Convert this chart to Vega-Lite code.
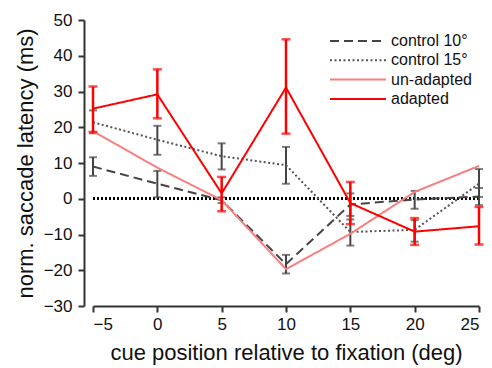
{
  "$schema": "https://vega.github.io/schema/vega-lite/v6.json",
  "width": 386,
  "height": 286,
  "autosize": {"type": "none"},
  "padding": {"left": 93, "top": 20, "right": 13, "bottom": 62},
  "background": "white",
  "config": {
    "view": {"stroke": null},
    "font": "Liberation Sans",
    "axis": {
      "grid": false,
      "domainColor": "#333333",
      "domainWidth": 2,
      "tickColor": "#333333",
      "tickWidth": 2,
      "tickSize": 6,
      "labelFontSize": 17,
      "labelColor": "#111111",
      "labelOverlap": false,
      "titleFontSize": 22,
      "titleFontWeight": "normal",
      "titleColor": "#111111"
    },
    "legend": {
      "orient": "none",
      "legendX": 257,
      "legendY": 13,
      "symbolType": "M-4,0H4",
      "symbolSize": 196,
      "symbolStrokeWidth": 2,
      "labelFontSize": 16,
      "labelColor": "#111111",
      "labelOffset": 25,
      "rowPadding": 3.3,
      "title": null
    }
  },
  "datasets": {
    "pts": [
      {"series": "control 10°", "x": -5, "y": 9.0, "lo": 6.4, "hi": 11.6},
      {"series": "control 10°", "x": 0, "y": 4.2, "lo": 0.4, "hi": 7.8},
      {"series": "control 10°", "x": 5, "y": -0.4, "lo": -1.2, "hi": 0.4},
      {"series": "control 10°", "x": 10, "y": -18.3, "lo": -20.9, "hi": -15.7},
      {"series": "control 10°", "x": 15, "y": -1.6, "lo": -4.8, "hi": 1.5},
      {"series": "control 10°", "x": 20, "y": -0.2, "lo": -2.8, "hi": 2.2},
      {"series": "control 10°", "x": 25, "y": 0.6, "lo": -1.8, "hi": 3.0},
      {"series": "control 15°", "x": -5, "y": 21.4, "lo": 18.3, "hi": 24.7},
      {"series": "control 15°", "x": 0, "y": 16.5, "lo": 12.3, "hi": 20.4},
      {"series": "control 15°", "x": 5, "y": 11.9, "lo": 8.2, "hi": 15.5},
      {"series": "control 15°", "x": 10, "y": 9.4, "lo": 4.2, "hi": 14.5},
      {"series": "control 15°", "x": 15, "y": -9.3, "lo": -13.1, "hi": -5.8},
      {"series": "control 15°", "x": 20, "y": -8.7, "lo": -12.0, "hi": -6.0},
      {"series": "control 15°", "x": 25, "y": 4.2, "lo": 0.5, "hi": 8.3},
      {"series": "un-adapted", "x": -5, "y": 18.9},
      {"series": "un-adapted", "x": 0, "y": 8.7},
      {"series": "un-adapted", "x": 5, "y": -0.4},
      {"series": "un-adapted", "x": 10, "y": -19.7},
      {"series": "un-adapted", "x": 15, "y": -9.8},
      {"series": "un-adapted", "x": 20, "y": 1.9},
      {"series": "un-adapted", "x": 25, "y": 9.2},
      {"series": "adapted", "x": -5, "y": 25.2, "lo": 18.7, "hi": 31.4},
      {"series": "adapted", "x": 0, "y": 29.2, "lo": 22.5, "hi": 36.2},
      {"series": "adapted", "x": 5, "y": 1.5, "lo": -3.5, "hi": 6.1},
      {"series": "adapted", "x": 10, "y": 31.1, "lo": 18.2, "hi": 44.6},
      {"series": "adapted", "x": 15, "y": -1.2, "lo": -7.1, "hi": 4.7},
      {"series": "adapted", "x": 20, "y": -9.2, "lo": -12.9, "hi": -5.4},
      {"series": "adapted", "x": 25, "y": -7.7, "lo": -12.8, "hi": -2.3}
    ]
  },
  "data": {"name": "pts"},
  "layer": [
    {
      "mark": {"type": "rule", "color": "#000000", "strokeDash": [2, 2], "strokeWidth": 2},
      "encoding": {"y": {"datum": 0, "type": "quantitative", "scale": {"domain": [-30, 50], "nice": false},
          "axis": {"values": [-30, -20, -10, 0, 10, 20, 30, 40, 50], "offset": 9, "labelPadding": 6, "titlePadding": 6},
          "title": "norm. saccade latency (ms)"}}
    },
    {
      "transform": [{"filter": "datum.series === 'control 10°' || datum.series === 'control 15°'"}],
      "mark": {"type": "errorbar", "ticks": {"size": 8}, "thickness": 2, "color": "#444444"},
      "encoding": {
        "x": {"field": "x", "type": "quantitative", "scale": {"domain": [-5, 25], "nice": false, "zero": false},
          "axis": {"values": [-5, 0, 5, 10, 15, 20, 25], "labelPadding": 4, "titlePadding": 10},
          "title": "cue position relative to fixation (deg)"},
        "y": {"field": "lo", "type": "quantitative", "scale": {"domain": [-30, 50], "nice": false},
          "axis": {"values": [-30, -20, -10, 0, 10, 20, 30, 40, 50], "offset": 9, "labelPadding": 6, "titlePadding": 6},
          "title": "norm. saccade latency (ms)"},
        "y2": {"field": "hi"},
        "detail": {"field": "series"}
      }
    },
    {
      "mark": {"type": "line", "strokeWidth": 2},
      "encoding": {
        "x": {"field": "x", "type": "quantitative", "scale": {"domain": [-5, 25], "nice": false, "zero": false},
          "axis": {"values": [-5, 0, 5, 10, 15, 20, 25], "labelPadding": 4, "titlePadding": 10},
          "title": "cue position relative to fixation (deg)"},
        "y": {"field": "y", "type": "quantitative", "scale": {"domain": [-30, 50], "nice": false},
          "axis": {"values": [-30, -20, -10, 0, 10, 20, 30, 40, 50], "offset": 9, "labelPadding": 6, "titlePadding": 6},
          "title": "norm. saccade latency (ms)"},
        "color": {
          "field": "series",
          "type": "nominal",
          "sort": ["control 10°", "control 15°", "un-adapted", "adapted"],
          "scale": {"domain": ["control 10°", "control 15°", "un-adapted", "adapted"], "range": ["#444444", "#555555", "#f77f7f", "#ff0000"]}
        },
        "strokeDash": {
          "field": "series",
          "type": "nominal",
          "sort": ["control 10°", "control 15°", "un-adapted", "adapted"],
          "scale": {"domain": ["control 10°", "control 15°", "un-adapted", "adapted"], "range": [[9, 5], [2, 2.5], [1, 0], [1, 0]]}
        },
        "order": {"field": "x", "type": "quantitative"}
      }
    },
    {
      "transform": [{"filter": "datum.series === 'adapted'"}],
      "mark": {"type": "errorbar", "ticks": {"size": 9}, "thickness": 2.5, "color": "#ff0000"},
      "encoding": {
        "x": {"field": "x", "type": "quantitative", "scale": {"domain": [-5, 25], "nice": false, "zero": false},
          "axis": {"values": [-5, 0, 5, 10, 15, 20, 25], "labelPadding": 4, "titlePadding": 10},
          "title": "cue position relative to fixation (deg)"},
        "y": {"field": "lo", "type": "quantitative", "scale": {"domain": [-30, 50], "nice": false},
          "axis": {"values": [-30, -20, -10, 0, 10, 20, 30, 40, 50], "offset": 9, "labelPadding": 6, "titlePadding": 6},
          "title": "norm. saccade latency (ms)"},
        "y2": {"field": "hi"}
      }
    }
  ]
}
